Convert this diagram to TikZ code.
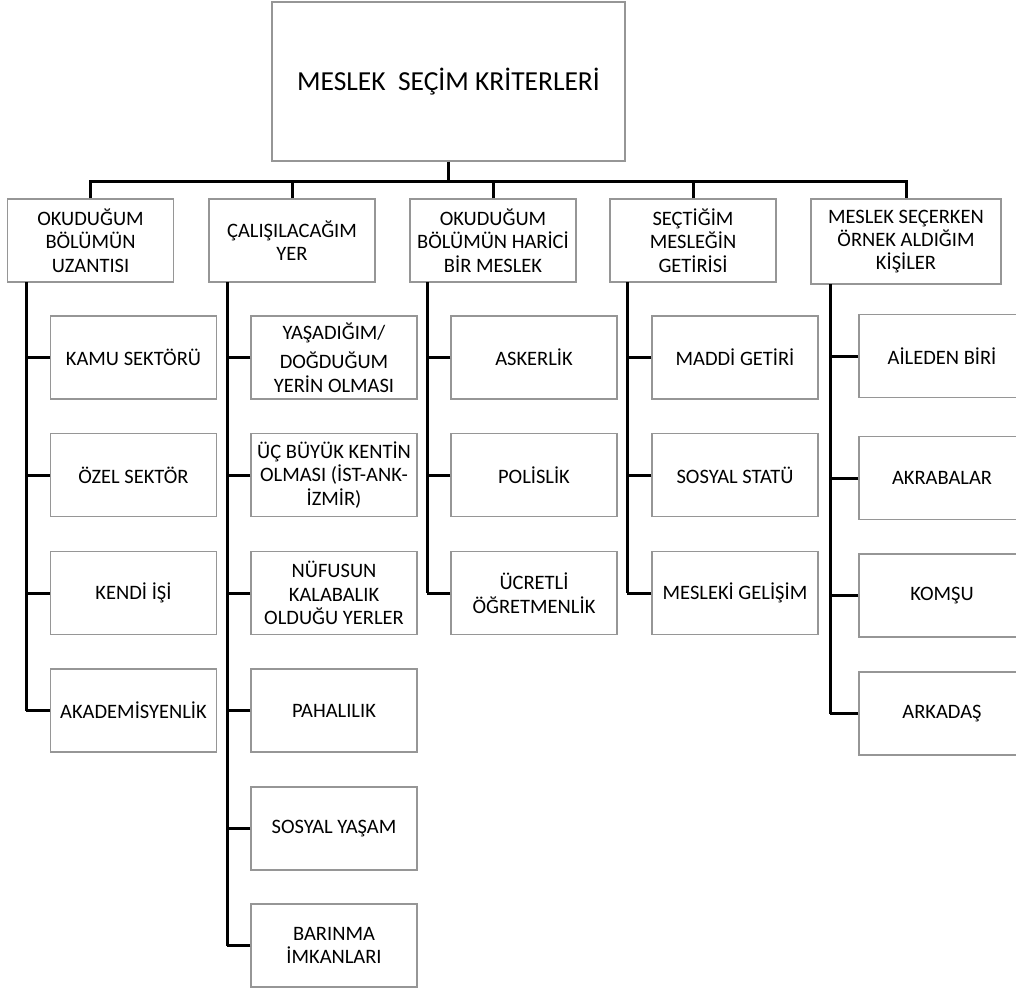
\documentclass[tikz,border=0pt]{standalone}
\usepackage{fontspec}
\setmainfont{Carlito}
\definecolor{boxgray}{RGB}{150,150,150}
\tikzset{
  pbox/.style={draw=boxgray, line width=1.3pt, fill=white, minimum width=166pt, minimum height=83pt,
    align=center, inner sep=1pt, font=\fontsize{20.5}{23.4}\selectfont},
  topbox/.style={pbox, minimum width=353pt, minimum height=159pt, font=\fontsize{27.5}{31}\selectfont},
  conn/.style={draw=black, line width=3pt}
}
\begin{document}
\begin{tikzpicture}[x=1pt,y=-1pt]
\useasboundingbox (0,0) rectangle (1016,987);
\clip (0,0) rectangle (1016,987);
% top
\node[topbox] (top) at (448.5,81.5) {MESLEK\ \ SEÇİM KRİTERLERİ};
% level 1
\node[pbox] (b1) at (90.5,240.5) {OKUDUĞUM\\BÖLÜMÜN\\UZANTISI};
\node[pbox] (b2) at (292,240.5) {ÇALIŞILACAĞIM\\YER};
\node[pbox] (b3) at (493,240.5) {OKUDUĞUM\\BÖLÜMÜN HARİCİ\\BİR MESLEK};
\node[pbox] (b4) at (693,240.5) {SEÇTİĞİM\\MESLEĞİN\\GETİRİSİ};
\node[pbox, minimum width=190pt, minimum height=85pt] (b5) at (906,241.5) {MESLEK SEÇERKEN\\ÖRNEK ALDIĞIM\\KİŞİLER};
% column 1
\node[pbox] (c11) at (133.5,357.5) {KAMU SEKTÖRÜ};
\node[pbox] (c12) at (133.5,475) {ÖZEL SEKTÖR};
\node[pbox] (c13) at (133.5,593) {KENDİ İŞİ};
\node[pbox] (c14) at (133.5,710.5) {AKADEMİSYENLİK};
% column 2
\node[pbox] (c21) at (334,357.5) {YAŞADIĞIM/\\[6pt]DOĞDUĞUM\\YERİN OLMASI};
\node[pbox] (c22) at (334,475) {ÜÇ BÜYÜK KENTİN\\OLMASI (İST-ANK-\\İZMİR)};
\node[pbox] (c23) at (334,593) {NÜFUSUN\\KALABALIK\\OLDUĞU YERLER};
\node[pbox] (c24) at (334,710.5) {PAHALILIK};
\node[pbox] (c25) at (334,828.5) {SOSYAL YAŞAM};
\node[pbox] (c26) at (334,945.5) {BARINMA\\İMKANLARI};
% column 3
\node[pbox] (c31) at (534,357.5) {ASKERLİK};
\node[pbox] (c32) at (534,475) {POLİSLİK};
\node[pbox] (c33) at (534,593) {ÜCRETLİ\\ÖĞRETMENLİK};
% column 4
\node[pbox] (c41) at (735,357.5) {MADDİ GETİRİ};
\node[pbox] (c42) at (735,475) {SOSYAL STATÜ};
\node[pbox] (c43) at (735,593) {MESLEKİ GELİŞİM};
% column 5
\node[pbox] (c51) at (942,356) {AİLEDEN BİRİ};
\node[pbox] (c52) at (942,478) {AKRABALAR};
\node[pbox] (c53) at (942,595.5) {KOMŞU};
\node[pbox] (c54) at (942,713.5) {ARKADAŞ};
% bus
\coordinate (bus) at (448.5,181);
\draw[conn] (top.south) -- (bus);
\draw[conn] (b1.north) |- (bus) -| (b5.north);
\foreach \b in {b2,b3,b4} \draw[conn] (\b.north) -- (\b.north |- bus);
% column lines
\coordinate (v1) at (26,282);
\coordinate (v2) at (227,282);
\coordinate (v3) at (427,282);
\coordinate (v4) at (627,282);
\coordinate (v5) at (830,284);
\draw[conn] (v1) -- (v1 |- c14.west);
\draw[conn] (v2) -- (v2 |- c26.west);
\draw[conn] (v3) -- (v3 |- c33.west);
\draw[conn] (v4) -- (v4 |- c43.west);
\draw[conn] (v5) -- (v5 |- c54.west);
\foreach \c in {c11,c12,c13,c14} \draw[conn] (\c.west) -- (\c.west -| v1);
\foreach \c in {c21,c22,c23,c24,c25,c26} \draw[conn] (\c.west) -- (\c.west -| v2);
\foreach \c in {c31,c32,c33} \draw[conn] (\c.west) -- (\c.west -| v3);
\foreach \c in {c41,c42,c43} \draw[conn] (\c.west) -- (\c.west -| v4);
\foreach \c in {c51,c52,c53,c54} \draw[conn] (\c.west) -- (\c.west -| v5);
\end{tikzpicture}
\end{document}
